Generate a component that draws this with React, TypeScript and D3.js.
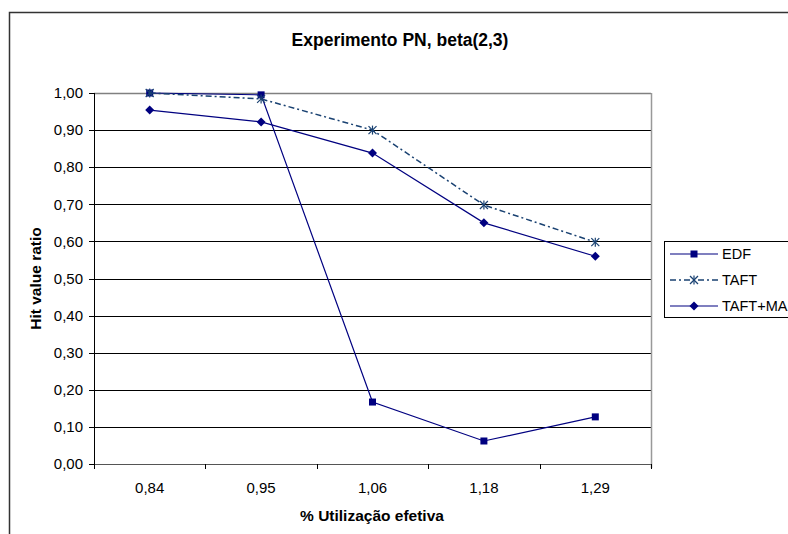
import React from "react";
import * as d3 from "d3";

const categories = ["0,84", "0,95", "1,06", "1,18", "1,29"];
const edfValues = [1.0, 0.995, 0.167, 0.062, 0.127];
const taftValues = [1.0, 0.984, 0.9, 0.698, 0.598];
const taftMaValues = [0.954, 0.922, 0.838, 0.65, 0.56];
const yTicks = [0, 0.1, 0.2, 0.3, 0.4, 0.5, 0.6, 0.7, 0.8, 0.9, 1.0];

const W = 788;
const H = 534;
const plot = { left: 94, right: 651, top: 93, bottom: 464 };
const FONT = "'Liberation Sans', Arial, sans-serif";
const NAVY = "#000080";
const TEAL = "#1a4272";

type Series = { name: string; values: number[]; color: string; dash?: string; marker: "square" | "star" | "diamond" };

const series: Series[] = [
  { name: "EDF", values: edfValues, color: NAVY, marker: "square" },
  { name: "TAFT", values: taftValues, color: TEAL, dash: "6,3,2,3", marker: "star" },
  { name: "TAFT+MA", values: taftMaValues, color: NAVY, marker: "diamond" },
];

function Marker({ kind, x, y, color }: { kind: Series["marker"]; x: number; y: number; color: string }) {
  if (kind === "square") {
    return <rect x={x - 3.5} y={y - 3.5} width={7} height={7} fill={color} />;
  }
  if (kind === "diamond") {
    return <path d={`M${x},${y - 4.5}L${x + 4.5},${y}L${x},${y + 4.5}L${x - 4.5},${y}Z`} fill={color} />;
  }
  const r = 4;
  return (
    <g stroke={color} strokeWidth={1.2}>
      <line x1={x - r} y1={y - r} x2={x + r} y2={y + r} />
      <line x1={x - r} y1={y + r} x2={x + r} y2={y - r} />
      <line x1={x} y1={y - r - 0.5} x2={x} y2={y + r + 0.5} />
    </g>
  );
}

export default function App() {
  const x = d3.scaleBand<string>().domain(categories).range([plot.left, plot.right]);
  const y = d3.scaleLinear().domain([0, 1]).range([plot.bottom, plot.top]);
  const cx = (c: string) => (x(c) ?? 0) + x.bandwidth() / 2;
  const line = d3
    .line<number>()
    .x((_, i) => cx(categories[i]))
    .y((v) => y(v));

  const boundaries = categories.map((c) => x(c) ?? 0).concat([plot.right]);
  const fmt = (v: number) => v.toFixed(2).replace(".", ",");
  const legendRows = [254, 280, 306];

  return (
    <svg
      width={W}
      height={H}
      style={{ position: "fixed", left: 0, top: 0, background: "#fff" }}
      fontFamily={FONT}
    >
      <rect x={0} y={0} width={W} height={H} fill="#fff" />
      {/* chart frame */}
      <rect x={9.5} y={12.5} width={820} height={560} fill="none" stroke="#333" strokeWidth={1.5} />

      <text x={400} y={46} textAnchor="middle" fontWeight="bold" fontSize={17.5}>
        Experimento PN, beta(2,3)
      </text>

      {/* gridlines */}
      {yTicks.map((t) => (
        <line
          key={t}
          x1={plot.left}
          x2={plot.right}
          y1={Math.round(y(t)) + 0.5}
          y2={Math.round(y(t)) + 0.5}
          stroke={t === 1 ? "#808080" : t === 0 ? "#555" : "#000"}
          strokeWidth={t === 1 ? 1.5 : 1}
        />
      ))}
      {/* plot area right border */}
      <line x1={plot.right + 0.5} x2={plot.right + 0.5} y1={plot.top} y2={plot.bottom + 4} stroke="#999" strokeWidth={1.5} />
      {/* y axis */}
      <line x1={plot.left + 0.5} x2={plot.left + 0.5} y1={plot.top} y2={plot.bottom + 1} stroke="#000" />
      {yTicks.map((t) => (
        <g key={"yt" + t}>
          <line x1={plot.left - 5} x2={plot.left} y1={Math.round(y(t)) + 0.5} y2={Math.round(y(t)) + 0.5} stroke="#000" />
          <text x={plot.left - 11} y={y(t)} dy="0.35em" textAnchor="end" fontSize={15}>
            {fmt(t)}
          </text>
        </g>
      ))}
      {/* x axis ticks */}
      {boundaries.map((b, i) => (
        <line key={"xt" + i} x1={Math.round(b) + 0.5} x2={Math.round(b) + 0.5} y1={plot.bottom} y2={plot.bottom + 5} stroke="#000" />
      ))}
      {categories.map((c) => (
        <text key={c} x={cx(c)} y={493} textAnchor="middle" fontSize={15}>
          {c}
        </text>
      ))}

      <text x={372} y={521} textAnchor="middle" fontWeight="bold" fontSize={15.5}>
        % Utilização efetiva
      </text>
      <text
        transform={`translate(41,${(plot.top + plot.bottom) / 2}) rotate(-90)`}
        textAnchor="middle"
        fontWeight="bold"
        fontSize={15.5}
      >
        Hit value ratio
      </text>

      {/* series */}
      {series.map((s) => (
        <g key={s.name}>
          <path d={line(s.values) ?? ""} fill="none" stroke={s.color} strokeWidth={s.dash ? 1.5 : 1.2} strokeDasharray={s.dash} />
          {s.values.map((v, i) => (
            <Marker key={i} kind={s.marker} x={cx(categories[i])} y={y(v)} color={s.color} />
          ))}
        </g>
      ))}

      {/* legend */}
      <rect x={664.5} y={241.5} width={140} height={76} fill="#fff" stroke="#000" />
      {series.map((s, i) => (
        <g key={"lg" + s.name}>
          <line x1={670} x2={718} y1={legendRows[i]} y2={legendRows[i]} stroke={s.color} strokeWidth={s.dash ? 1.5 : 1.2} strokeDasharray={s.dash} />
          <Marker kind={s.marker} x={694} y={legendRows[i]} color={s.color} />
          <text x={722} y={legendRows[i]} dy="0.35em" fontSize={14.5}>
            {s.name}
          </text>
        </g>
      ))}
    </svg>
  );
}
